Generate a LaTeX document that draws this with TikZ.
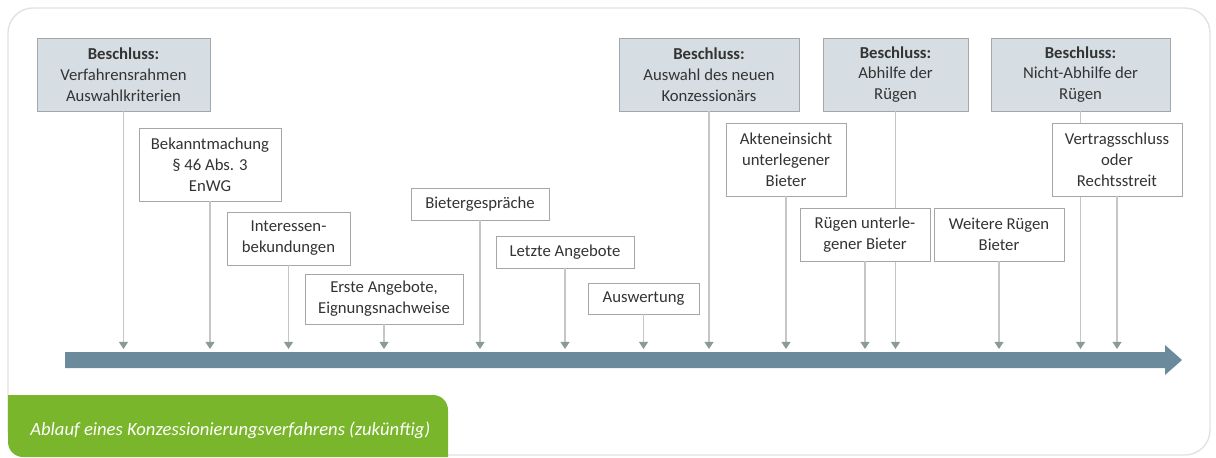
\documentclass[tikz,border=0pt]{standalone}
\usepackage{fontspec}
\setmainfont{Carlito}
\usepackage{xcolor}
\usepackage{tikz}
\usetikzlibrary{arrows.meta}

\definecolor{kastenblau}{HTML}{D6DEE3}
\definecolor{kastenrand}{HTML}{A3A7A9}
\definecolor{textgrau}{HTML}{333333}
\definecolor{liniengrau}{HTML}{C4C7C6}
\definecolor{spitzengrau}{HTML}{8C9A94}
\definecolor{balkenblau}{HTML}{6B8A9C}
\definecolor{gruen}{HTML}{79B62B}
\definecolor{rahmengrau}{HTML}{E2E2E2}

\begin{document}
\begin{tikzpicture}[x=0.02cm, y=-0.02cm,
    ereignis/.style={draw=kastenrand, fill=white, text=textgrau, align=center,
      font=\fontsize{9.5}{11.9}\selectfont, inner sep=1pt},
    beschluss/.style={ereignis, fill=kastenblau, minimum height=1.46cm},
    pfeil/.style={draw=liniengrau, line width=0.8pt,
      -{Triangle[width=5pt,length=4pt,fill=spitzengrau,color=spitzengrau]}}
    ]
    \useasboundingbox (0,0) rectangle (1216,457);
    % Rahmen
    \draw[rahmengrau, line width=0.8pt, rounded corners=0.5cm] (8,8) rectangle (1210,455);
    \coordinate (zeit) at (0,349);

    % Beschluesse
    \node[beschluss, minimum width=3.46cm] (verfahren) at (123.5,74.5)
      {\textbf{Beschluss:}\\Verfahrensrahmen\\Auswahlkriterien};
    \node[beschluss, minimum width=3.6cm] (auswahl) at (709,74.5)
      {\textbf{Beschluss:}\\Auswahl des neuen\\Konzessionärs};
    \node[beschluss, minimum width=2.9cm] (abhilfe) at (895.5,74.5)
      {\textbf{Beschluss:}\\Abhilfe der\\Rügen};
    \node[beschluss, minimum width=3.58cm] (nichtabhilfe) at (1080.5,74.5)
      {\textbf{Beschluss:}\\Nicht-Abhilfe der\\Rügen};
    \foreach \n in {verfahren,auswahl,abhilfe,nichtabhilfe}
      \draw[pfeil] (\n.south) -- (\n.south |- zeit);

    % Schritte
    \node[ereignis, minimum width=2.84cm, minimum height=1.46cm] (bekannt) at (210,164.5)
      {Bekanntmachung\\§ 46 Abs. 3\\EnWG};
    \node[ereignis, minimum width=2.46cm, minimum height=1.06cm] (interesse) at (288.5,238.5)
      {Interessen-\\bekundungen};
    \node[ereignis, minimum width=3.16cm, minimum height=1cm] (erste) at (384,299)
      {Erste Angebote,\\Eignungsnachweise};
    \node[ereignis, minimum width=2.76cm, minimum height=0.64cm] (gespraech) at (480,204)
      {Bietergespräche};
    \node[ereignis, minimum width=2.76cm, minimum height=0.64cm] (letzte) at (565,252)
      {Letzte Angebote};
    \node[ereignis, minimum width=2.22cm, minimum height=0.62cm] (auswertung) at (643.5,298.5)
      {Auswertung};
    \node[ereignis, minimum width=2.4cm, minimum height=1.46cm] (akten) at (786,159.5)
      {Akteneinsicht\\unterlegener\\Bieter};
    \node[ereignis, minimum width=2.6cm, minimum height=1.06cm] (ruegen) at (865,234.5)
      {Rügen unterle-\\gener Bieter};
    \node[ereignis, minimum width=2.6cm, minimum height=1.06cm] (weitere) at (999,234.5)
      {Weitere Rügen\\Bieter};
    \node[ereignis, minimum width=2.6cm, minimum height=1.46cm] (vertrag) at (1117,159.5)
      {Vertragsschluss\\oder\\Rechtsstreit};
    \foreach \n in {bekannt,interesse,erste,gespraech,letzte,auswertung,akten,ruegen,weitere,vertrag}
      \draw[pfeil] (\n.south) -- (\n.south |- zeit);

    % Zeitstrahl
    \fill[balkenblau] (65,352) -- (1165,352) -- (1165,345) -- (1182,360)
      -- (1165,375) -- (1165,368) -- (65,368) -- cycle;

    % Beschriftung
    \fill[gruen] (8,395) -- (433,395) arc[start angle=90, end angle=0, radius=0.3cm]
      -- (448,457) -- (23,457) arc[start angle=270, end angle=180, radius=0.3cm] -- cycle;
    \node[anchor=base west, text=white, inner sep=0pt,
      font=\fontsize{10.6}{12}\selectfont\itshape] (titel) at (30,435)
      {Ablauf eines Konzessionierungsverfahrens (zukünftig)};
  \end{tikzpicture}
\end{document}
